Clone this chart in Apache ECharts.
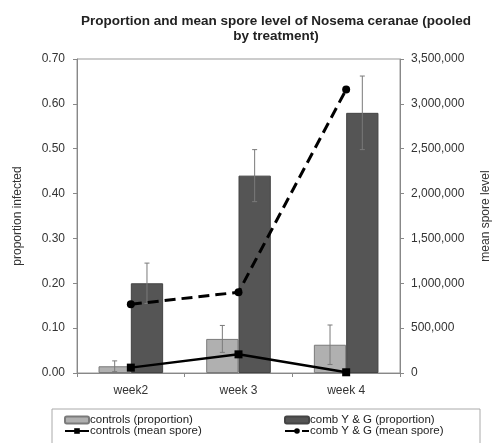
<!DOCTYPE html>
<html>
<head>
<meta charset="utf-8">
<script src="https://cdn.jsdelivr.net/npm/echarts@6/dist/echarts.min.js"></script>
<style>
  html, body { margin: 0; padding: 0; background: #fff; }
  #chart { width: 500px; height: 443px; }
</style>
</head>
<body>
<div id="chart"></div>
<script>
// values
var weeks = ["week2", "week 3", "week 4"];
var ctrlProp = [0.015, 0.076, 0.063];
var ctrlErr = [0.012, 0.03, 0.044];
var combProp = [0.20, 0.44, 0.58];
var combErr = [0.045, 0.058, 0.082];
var ctrlSpore = [60000, 208000, 8000];
var combSpore = [766000, 900000, 3160000];

var chart = echarts.init(document.getElementById("chart"));
var font = "Liberation Sans";

// error bar data: [category index, value, err, which bar (-1 controls, 1 comb)]
var errData = [];
for (var i = 0; i < weeks.length; i++) {
  errData.push([i, ctrlProp[i], ctrlErr[i], -1]);
  errData.push([i, combProp[i], combErr[i], 1]);
}

function renderErr(params, api) {
  var idx = api.value(0);
  var v = api.value(1);
  var e = api.value(2);
  var side = api.value(3);
  var band = api.size([1, 0])[0];
  var top = api.coord([idx, v + e]);
  var bot = api.coord([idx, v - e]);
  var x = top[0] + side * band * 0.15;
  var cap = 2.5;
  var st = { stroke: "#7a7a7a", lineWidth: 1 };
  return {
    type: "group",
    children: [
      { type: "line", shape: { x1: x, y1: top[1], x2: x, y2: bot[1] }, style: st },
      { type: "line", shape: { x1: x - cap, y1: top[1], x2: x + cap, y2: top[1] }, style: st },
      { type: "line", shape: { x1: x - cap, y1: bot[1], x2: x + cap, y2: bot[1] }, style: st }
    ]
  };
}

var axisLbl = { fontFamily: font, fontSize: 12, color: "#333" };
var legendText = { fontFamily: font, fontSize: 11.5, color: "#222", lineHeight: 11, padding: [0, 0, 0, -4] };

var option = {
  animation: false,
  textStyle: { fontFamily: font },
  title: {
    text: "Proportion and mean spore level of Nosema ceranae (pooled\nby treatment)",
    left: 271,
    top: 9,
    textAlign: "center",
    textStyle: { fontFamily: font, fontSize: 13.5, fontWeight: "bold", color: "#222", lineHeight: 15 }
  },
  grid: {
    left: 77, right: 93, top: 59, bottom: 70,
    show: true, borderColor: "#999", borderWidth: 1
  },
  legend: [
    {
      left: 64, top: 414, orient: "vertical", padding: 0,
      itemWidth: 24, itemHeight: 7, itemGap: -1,
      textStyle: legendText,
      data: ["controls (proportion)", "controls (mean spore)"]
    },
    {
      left: 284, top: 414, orient: "vertical", padding: 0,
      itemWidth: 24, itemHeight: 7, itemGap: -1,
      textStyle: legendText,
      data: ["comb Y & G (proportion)", "comb Y & G (mean spore)"]
    }
  ],
  graphic: [
    {
      type: "rect",
      shape: { x: 52, y: 409, width: 428, height: 42 },
      style: { fill: "none", stroke: "#aaa", lineWidth: 1 }
    }
  ],
  xAxis: {
    type: "category",
    data: weeks,
    axisLine: { lineStyle: { color: "#888" } },
    axisTick: { show: true, length: 4, lineStyle: { color: "#888" } },
    axisLabel: { fontFamily: font, fontSize: 12, color: "#333", margin: 12 }
  },
  yAxis: [
    {
      type: "value",
      min: 0, max: 0.7, interval: 0.1,
      name: "proportion infected",
      nameLocation: "middle",
      nameGap: 53,
      nameTextStyle: { fontFamily: font, fontSize: 12, color: "#333" },
      axisLine: { show: true, lineStyle: { color: "#888" } },
      axisTick: { show: true, length: 4, lineStyle: { color: "#888" } },
      splitLine: { show: false },
      axisLabel: Object.assign({ margin: 12, formatter: function (v) { return v.toFixed(2); } }, axisLbl)
    },
    {
      type: "value",
      min: 0, max: 3500000, interval: 500000,
      name: "mean spore level",
      nameLocation: "middle",
      nameGap: 80,
      nameTextStyle: { fontFamily: font, fontSize: 12, color: "#333" },
      axisLine: { show: true, lineStyle: { color: "#888" } },
      axisTick: { show: true, length: 4, lineStyle: { color: "#888" } },
      splitLine: { show: false },
      axisLabel: Object.assign({ margin: 11, formatter: function (v) { return v.toLocaleString("en-US"); } }, axisLbl)
    }
  ],
  series: [
    {
      name: "controls (proportion)",
      type: "bar",
      yAxisIndex: 0,
      data: ctrlProp,
      barGap: "0%",
      barCategoryGap: "40%",
      itemStyle: { color: "#b0b0b0", borderColor: "#7a7a7a", borderWidth: 1 }
    },
    {
      name: "comb Y & G (proportion)",
      type: "bar",
      yAxisIndex: 0,
      data: combProp,
      itemStyle: { color: "#555555", borderColor: "#444", borderWidth: 1 }
    },
    {
      name: "errors",
      type: "custom",
      yAxisIndex: 0,
      data: errData,
      renderItem: renderErr,
      z: 3
    },
    {
      name: "controls (mean spore)",
      type: "line",
      yAxisIndex: 1,
      data: ctrlSpore,
      symbol: "rect",
      symbolSize: 8,
      lineStyle: { color: "#000", width: 2.5 },
      itemStyle: { color: "#000" },
      z: 5
    },
    {
      name: "comb Y & G (mean spore)",
      type: "line",
      yAxisIndex: 1,
      data: combSpore,
      symbol: "circle",
      symbolSize: 8,
      lineStyle: { color: "#000", width: 3, type: [11, 6] },
      itemStyle: { color: "#000" },
      z: 5
    }
  ]
};
chart.setOption(option);
</script>
</body>
</html>
